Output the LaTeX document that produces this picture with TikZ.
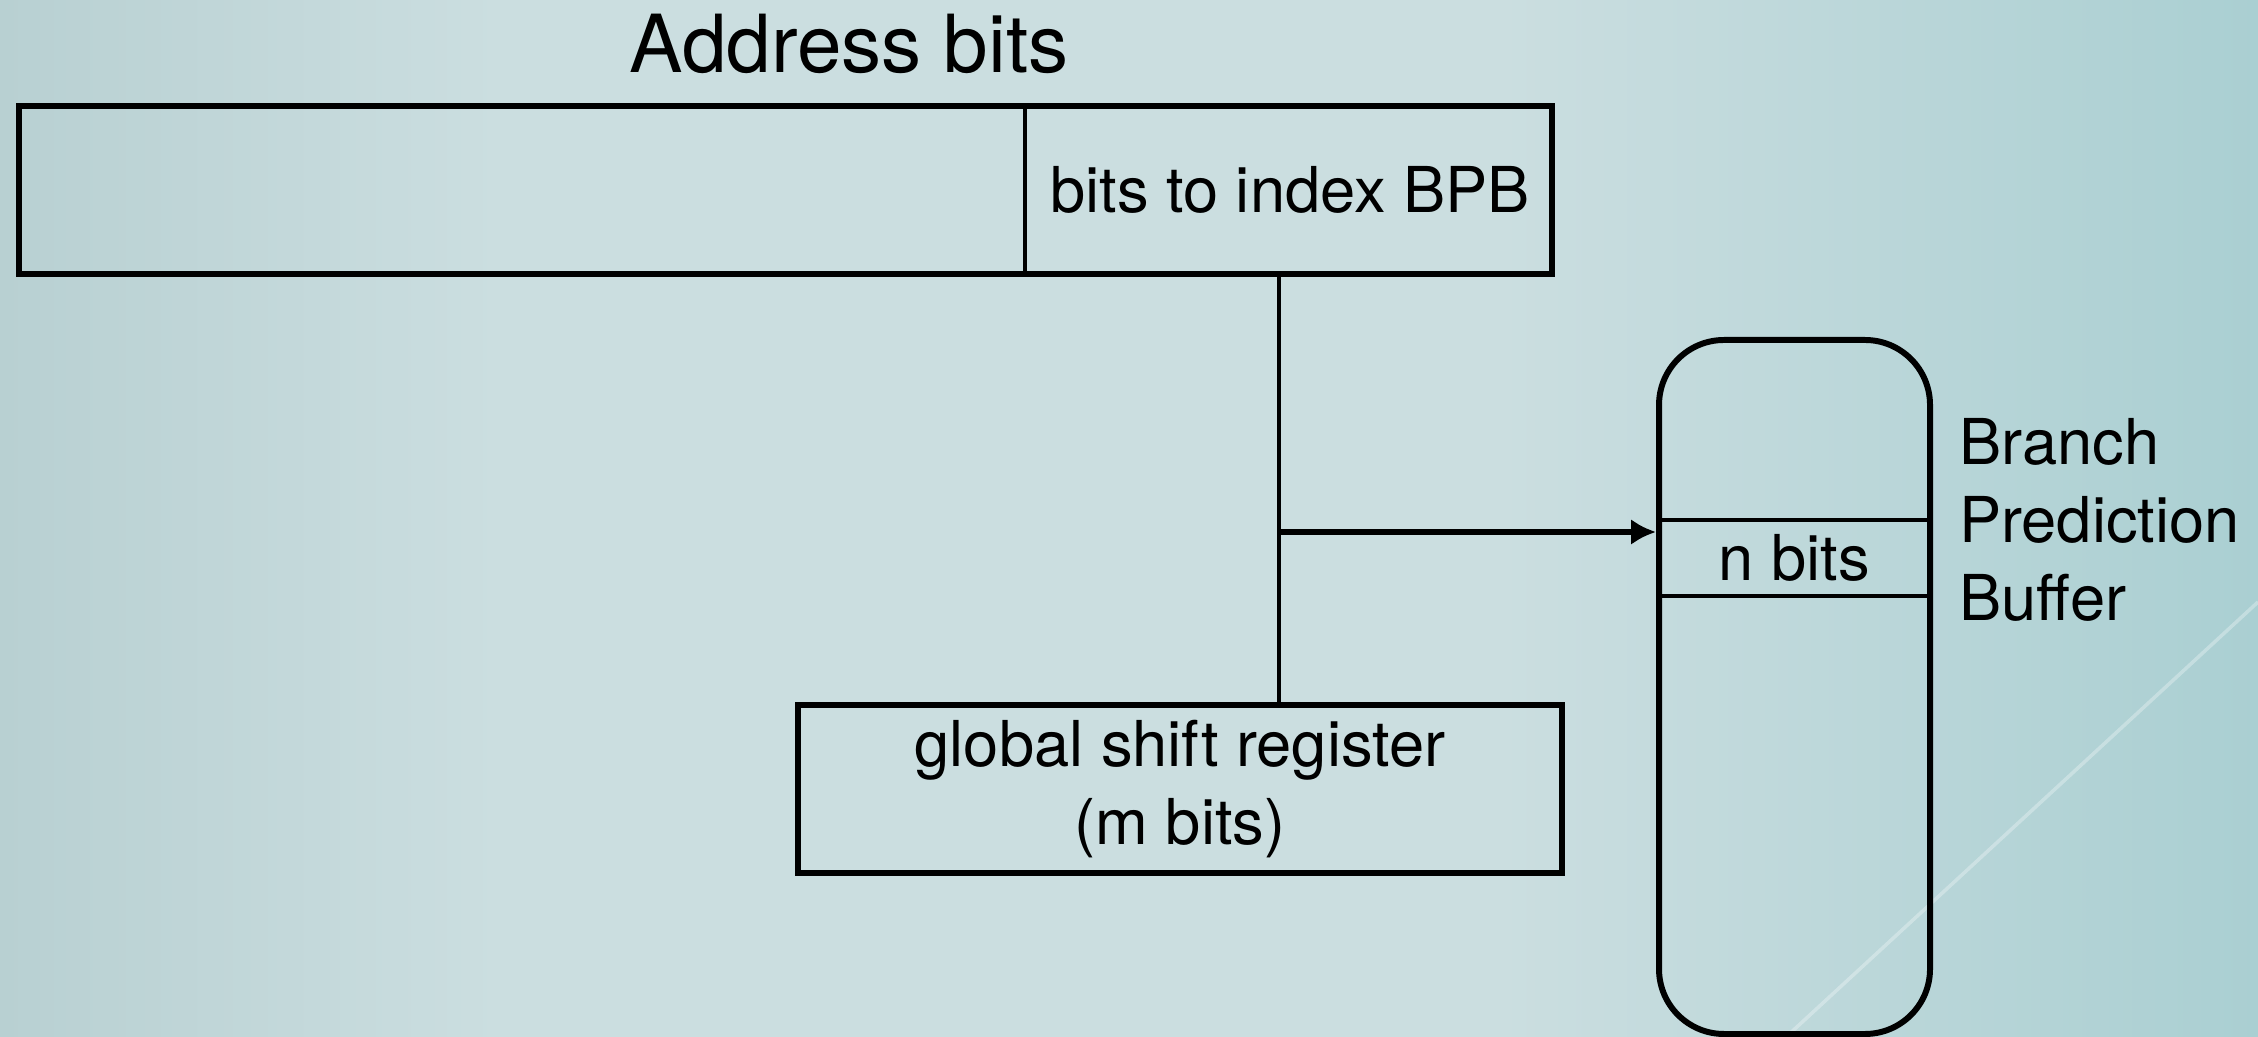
\documentclass[tikz,border=0pt]{standalone}
\usepackage{fontspec}
\setmainfont{TeX Gyre Heros}
\usetikzlibrary{arrows.meta,positioning}

\definecolor{bglinks}{RGB}{184,208,210}
\definecolor{bgmitte}{RGB}{203,222,224}
\definecolor{bgrechts}{RGB}{170,207,210}

\begin{document}
\begin{tikzpicture}[>={Latex[length=2.5mm,width=2.6mm]},line width=1.7pt]

\def\schrift{\fontsize{18}{22.2}\selectfont}
\tikzset{
	feld/.style={draw,rectangle,inner sep=0pt,font=\schrift},
	zeile/.style={rectangle,inner sep=0pt,font=\schrift}
}

\useasboundingbox (0,0) rectangle (22.58,10.37);
\fill[bgmitte] (0,0) rectangle (22.58,10.37);
\shade[left color=bglinks,right color=bgmitte] (0,0) rectangle (5,10.37);
\shade[left color=bgmitte,right color=bgrechts] (15,0) rectangle (22.58,10.37);
\draw[white,opacity=0.3,line width=1pt] (22.58,4.35)--(17.86,0);

\node[font=\fontsize{22.8}{27}\selectfont,inner sep=0pt] (titel) at (8.49,9.93) {Address bits};
\node[feld,minimum width=15.33cm,minimum height=1.68cm,anchor=south west] (adr) at (0.16,7.60) {};
\node[zeile,minimum width=5.24cm,minimum height=1.68cm,anchor=east] (idx) at (adr.east) {bits to index BPB};
\draw[line width=1.3pt] (idx.north west)--(idx.south west);

\node[draw,rounded corners=0.65cm,minimum width=2.71cm,minimum height=6.94cm] (bpb) at (17.945,3.50) {};
\node[zeile,minimum width=2.71cm,minimum height=0.70cm] (nbits) at (17.945,4.79) {n bits};
\draw[line width=1.3pt] (nbits.north west)--(nbits.north east) (nbits.south west)--(nbits.south east);
\node[zeile,anchor=west,align=left] (bpbname) at (19.56,5.17) {Branch\\Prediction\\Buffer};

\node[feld,minimum width=7.64cm,minimum height=1.68cm,align=center] (gsr) at (11.80,2.48) {global shift register\\(m bits)};

\coordinate (abzweig) at (12.79,5.05);
\draw[line width=1.4pt] (abzweig |- idx.south)--(abzweig |- gsr.north);
\draw[->,line width=1.8pt] (abzweig)--(abzweig -| bpb.west);

\end{tikzpicture}
\end{document}
